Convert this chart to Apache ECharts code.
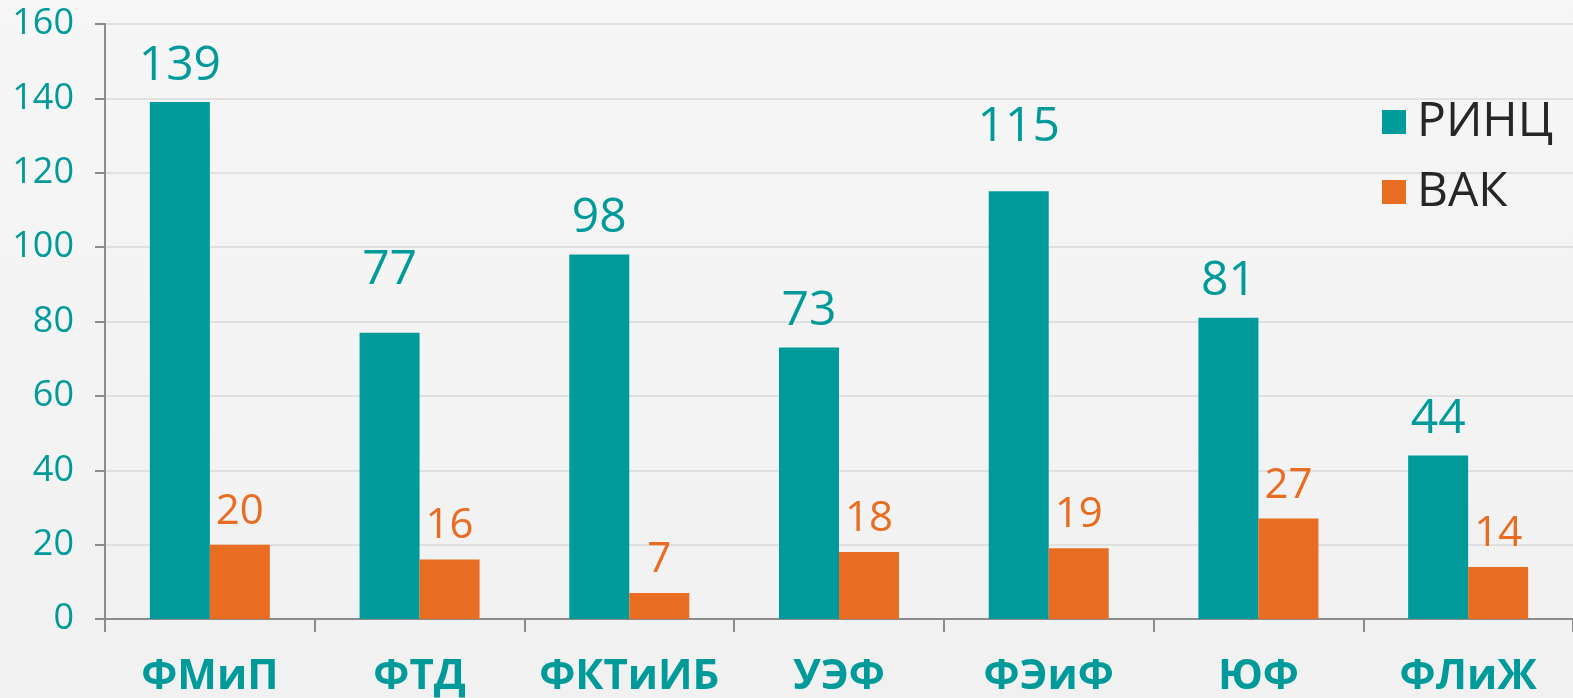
<!DOCTYPE html>
<html>
<head>
<meta charset="utf-8">
<script src="https://cdn.jsdelivr.net/npm/echarts@6/dist/echarts.min.js"></script>
<style>
  html, body { margin: 0; padding: 0; }
  #chart { width: 1573px; height: 698px; }
</style>
</head>
<body>
<div id="chart"></div>
<script>
var categories = ['ФМиП', 'ФТД', 'ФКТиИБ', 'УЭФ', 'ФЭиФ', 'ЮФ', 'ФЛиЖ'];
var rincValues = [139, 77, 98, 73, 115, 81, 44];
var vakValues = [20, 16, 7, 18, 19, 27, 14];
var seriesNames = ['РИНЦ', 'ВАК'];

var teal = '#009a9a';
var orange = '#e86c22';
var font = '"Open Sans", "Noto Sans", sans-serif';

// two teal labels sit higher in the original
var extraLift = { 1: 26, 4: 28 };

var rincData = rincValues.map(function (v, i) {
	var item = { value: v };
	if (extraLift[i]) {
		item.label = { distance: 12 + extraLift[i] };
	}
	return item;
});

var myChart = echarts.init(document.getElementById('chart'));
var option = {
	backgroundColor: {
		type: 'linear', x: 0, y: 0, x2: 0, y2: 1,
		colorStops: [{ offset: 0, color: '#f6f6f6' }, { offset: 1, color: '#f1f1f1' }]
	},
	animation: false,
	grid: {
		left: 105,
		top: 24,
		width: 1474,
		height: 595
	},
	legend: {
		orient: 'vertical',
		left: 1382,
		top: 87,
		padding: 0,
		itemWidth: 24,
		itemHeight: 24,
		itemGap: 0,
		icon: 'rect',
		data: seriesNames,
		textStyle: {
			fontFamily: font,
			fontSize: 48,
			lineHeight: 49,
			color: '#262626',
			padding: [21, 0, 0, 6]
		}
	},
	xAxis: {
		type: 'category',
		data: categories,
		axisLine: { lineStyle: { color: '#8c8c8c', width: 2 } },
		axisTick: { show: true, length: 13, lineStyle: { color: '#8c8c8c', width: 2 } },
		axisLabel: {
			interval: 0,
			margin: 37,
			color: teal,
			fontFamily: font,
			fontWeight: 'bold',
			fontSize: 42
		}
	},
	yAxis: {
		type: 'value',
		min: 0,
		max: 160,
		interval: 20,
		axisLine: { show: true, lineStyle: { color: '#8c8c8c', width: 2 } },
		axisTick: { show: true, length: 10, lineStyle: { color: '#8c8c8c', width: 2 } },
		splitLine: { lineStyle: { color: '#e0e0e0', width: 2 } },
		axisLabel: {
			margin: 31,
			color: teal,
			fontFamily: font,
			fontSize: 36
		}
	},
	series: [{
		name: seriesNames[0],
		type: 'bar',
		barWidth: 60,
		barGap: '0%',
		itemStyle: { color: teal },
		label: {
			show: true,
			position: 'top',
			distance: 12,
			color: teal,
			fontFamily: font,
			fontSize: 48
		},
		data: rincData
	}, {
		name: seriesNames[1],
		type: 'bar',
		barWidth: 60,
		barGap: '0%',
		itemStyle: { color: orange },
		label: {
			show: true,
			position: 'top',
			distance: 12,
			color: orange,
			fontFamily: font,
			fontSize: 42
		},
		data: vakValues
	}]
};
myChart.setOption(option);
</script>
</body>
</html>
